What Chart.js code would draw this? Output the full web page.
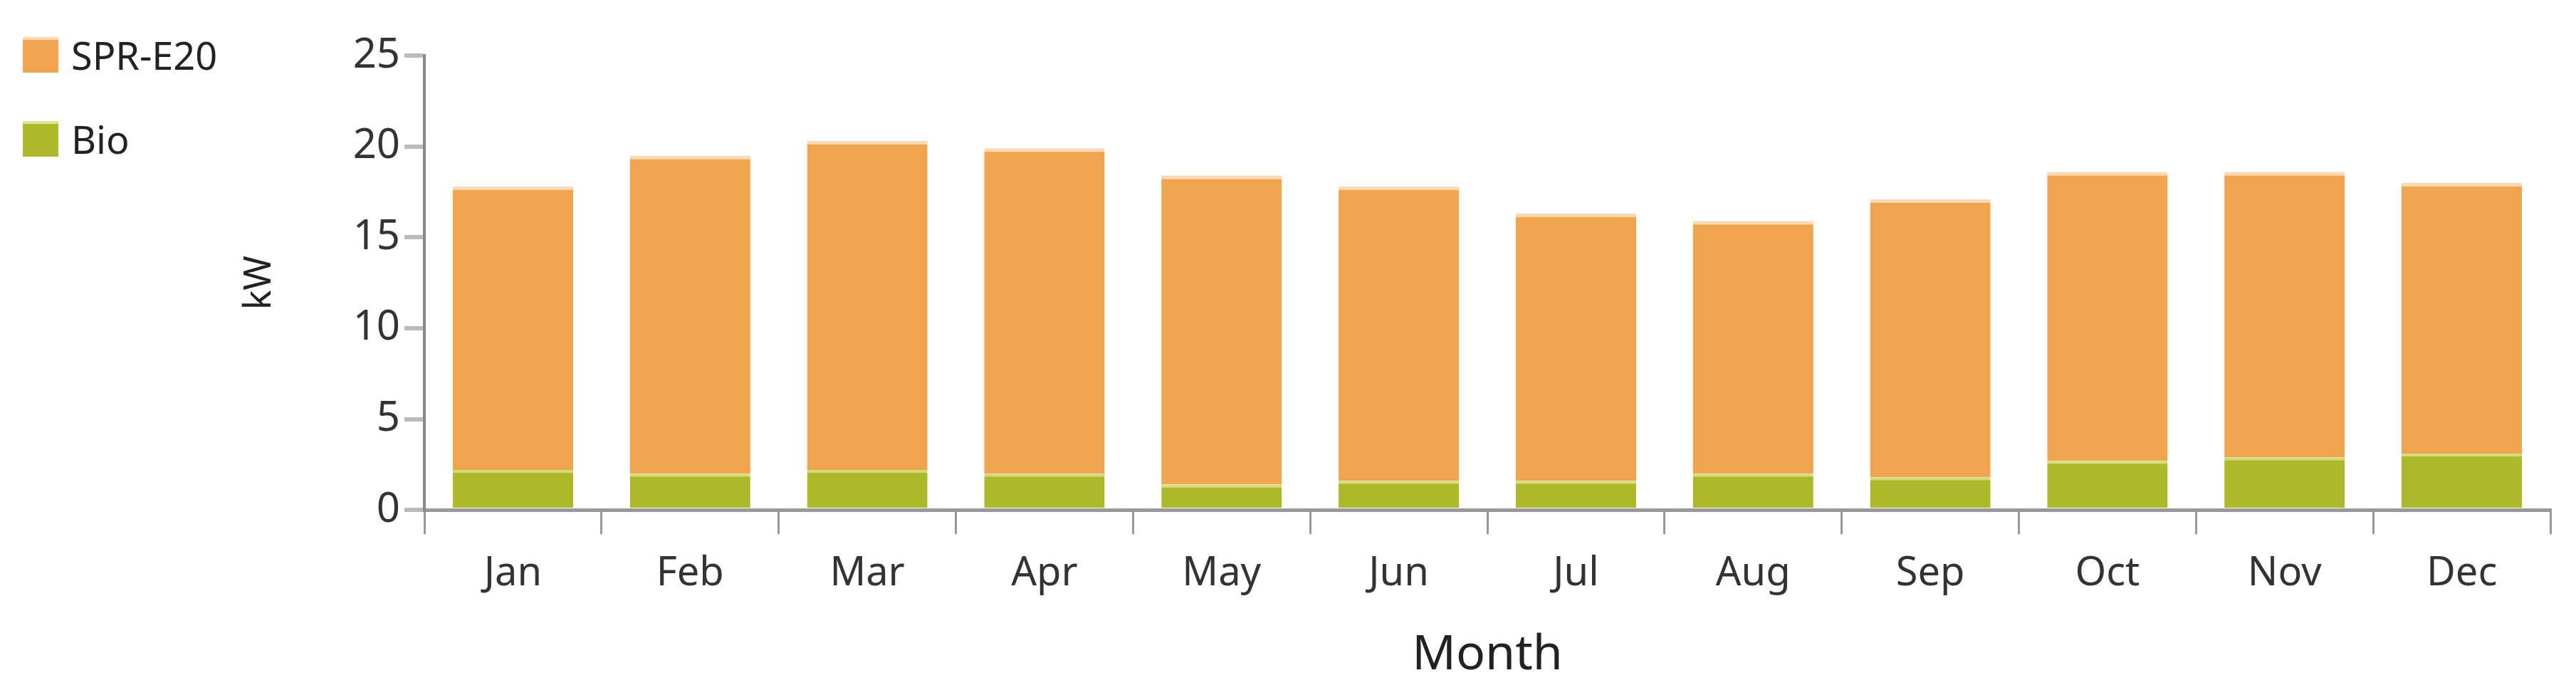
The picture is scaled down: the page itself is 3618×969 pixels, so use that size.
<!DOCTYPE html>
<html><head><meta charset="utf-8">
<script src="https://cdn.jsdelivr.net/npm/chart.js@4"></script>
<style>
html,body{margin:0;padding:0;background:#fff;}
#wrap{position:relative;width:3618px;height:969px;}
.lg{position:absolute;left:32px;font:54px "Noto Sans",sans-serif;color:#222;display:flex;align-items:center;}
.sw{width:50px;height:50px;margin-right:18px;}
</style></head><body>
<div id="wrap">
<canvas id="c" width="3618" height="969"></canvas>
<div class="lg" style="top:40px"><div class="sw" style="background:#F0A44D;border-top:4px solid #fbd7b0;height:46px"></div>SPR-E20</div>
<div class="lg" style="top:158px"><div class="sw" style="background:#ADB92A;border-top:4px solid #e0e59a;height:46px"></div>Bio</div>
</div>
<script>
const months=["Jan","Feb","Mar","Apr","May","Jun","Jul","Aug","Sep","Oct","Nov","Dec"];
const bio=[2.2,2.0,2.2,2.0,1.4,1.6,1.6,2.0,1.8,2.7,2.9,3.1];
const spr=[15.6,17.5,18.1,17.9,17.0,16.2,14.7,13.9,15.3,15.9,15.7,14.9];
const yTicks=[0,5,10,15,20,25];
const fam='"Noto Sans", sans-serif';
new Chart(document.getElementById('c'),{
type:'bar',
data:{labels:months,datasets:[
{label:'Bio',data:bio,backgroundColor:'#ADB92A',borderColor:'#d4dc7a',borderWidth:{top:4},borderSkipped:false,categoryPercentage:0.68,barPercentage:1},
{label:'SPR-E20',data:spr,backgroundColor:'#F0A44D',borderColor:'#fbd9b4',borderWidth:{top:5},borderSkipped:false,categoryPercentage:0.68,barPercentage:1}
]},
options:{responsive:false,animation:false,
layout:{padding:{left:330,right:36,top:78,bottom:4}},
plugins:{legend:{display:false},tooltip:{enabled:false}},
scales:{
x:{stacked:true,offset:true,
 grid:{offset:true,drawOnChartArea:false,color:'#999',lineWidth:3,tickLength:34},
 border:{color:'#999',width:5},
 ticks:{font:{family:fam,size:56},color:'#333',padding:22},
 title:{display:true,text:'Month',font:{family:fam,size:68},color:'#222',padding:{top:18}}},
y:{stacked:true,min:0,max:25,
 afterFit:s=>{s.width=266;},
 afterBuildTicks:s=>{s.ticks=yTicks.map(v=>({value:v}));},
 grid:{drawOnChartArea:false,color:'#bbb',lineWidth:6,tickLength:28},
 border:{color:'#888',width:4},
 ticks:{font:{family:fam,size:58},color:'#333',padding:6},
 title:{display:true,text:'kW',font:{family:fam,size:52},color:'#222',padding:{bottom:30}}}
}}});
</script></body></html>
